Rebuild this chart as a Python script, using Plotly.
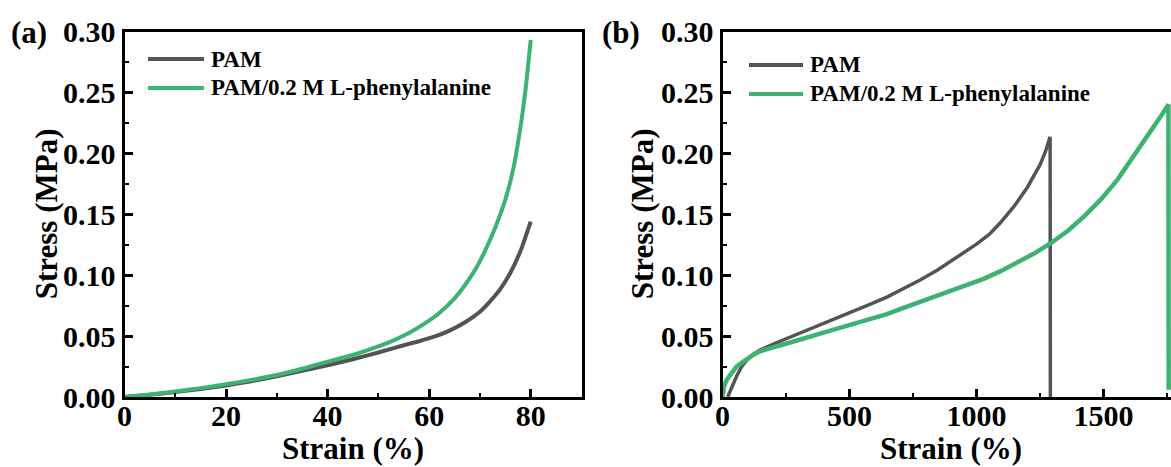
import plotly.graph_objects as go

W, H = 1171, 467

# ---------------- data ----------------
# panel (a)
a_pam_strain = [0, 5, 10, 15, 20, 25, 30, 35, 40, 45, 50, 55, 58, 61, 64, 67, 70, 72, 74, 76, 78, 80]
a_pam_stress = [0, 0.0018, 0.004, 0.0066, 0.0095, 0.013, 0.017, 0.0215, 0.026, 0.031, 0.0365,
                0.0425, 0.0458, 0.0495, 0.0545, 0.0612, 0.070, 0.0785, 0.0885, 0.102, 0.120, 0.144]
a_phe_strain = [0, 5, 10, 15, 20, 25, 30, 35, 40, 45, 50, 53, 56, 59, 62, 65, 67, 69, 71, 73, 75,
                76.5, 78, 79, 80]
a_phe_stress = [0, 0.002, 0.0045, 0.0073, 0.0105, 0.014, 0.018, 0.0232, 0.029, 0.0345, 0.0415,
                0.0465, 0.0525, 0.0600, 0.0690, 0.0810, 0.0915, 0.104, 0.120, 0.139, 0.162,
                0.186, 0.222, 0.253, 0.293]

# panel (b)
b_pam_strain = [20, 30, 40, 55, 75, 95, 120, 147, 200, 253, 320, 384, 450, 515, 580, 647, 710, 778,
                845, 910, 960, 1000, 1050, 1094, 1150, 1200, 1250, 1270, 1290, 1291]
b_pam_stress = [0, 0.005, 0.010, 0.017, 0.025, 0.030, 0.035, 0.0386, 0.0435, 0.048, 0.0535, 0.059,
                0.0645, 0.070, 0.076, 0.082, 0.0885, 0.096, 0.104, 0.113, 0.1195, 0.1255, 0.1335,
                0.143, 0.157, 0.172, 0.1905, 0.2005, 0.2135, 0]
b_phe_strain = [0, 5, 16, 35, 55, 75, 95, 120, 147, 200, 253, 320, 384, 450, 515, 580, 647, 710, 778,
                840, 897, 960, 1028, 1095, 1160, 1225, 1291, 1360, 1423, 1489, 1554, 1620, 1686,
                1720, 1756, 1757]
b_phe_stress = [0, 0.008, 0.014, 0.020, 0.025, 0.028, 0.031, 0.0345, 0.0375, 0.041, 0.044, 0.048,
                0.052, 0.056, 0.060, 0.064, 0.068, 0.073, 0.078, 0.0825, 0.087, 0.0915, 0.097,
                0.1033, 0.110, 0.1175, 0.126, 0.1365, 0.148, 0.162, 0.178, 0.1975, 0.218,
                0.2285, 0.240, 0.006]

series_names = ["PAM", "PAM/0.2 M L-phenylalanine"]
colors = ["#545454", "#3CB371"]

y_ticks = [0, 0.05, 0.10, 0.15, 0.20, 0.25, 0.30]

# ---------------- layout helpers ----------------
FONT = "Liberation Serif, Times New Roman, serif"


def px_x(x):
    return x / W


def px_y(y):
    return 1 - y / H


plot_top, plot_bot = 31.5, 397
a_left, a_right = 124.5, 581.5
b_left = 722.6
b_px_per_unit = (a_right - a_left) / 1800.0
b_max = (W - b_left) / b_px_per_unit

fig = go.Figure()
fig.add_trace(go.Scatter(x=a_pam_strain, y=a_pam_stress, mode="lines", name=series_names[0],
                         line=dict(color=colors[0], width=4, shape="spline", smoothing=0.5),
                         xaxis="x", yaxis="y", showlegend=False))
fig.add_trace(go.Scatter(x=a_phe_strain, y=a_phe_stress, mode="lines", name=series_names[1],
                         line=dict(color=colors[1], width=4, shape="spline", smoothing=0.5),
                         xaxis="x", yaxis="y", showlegend=False))
fig.add_trace(go.Scatter(x=b_pam_strain, y=b_pam_stress, mode="lines", name=series_names[0],
                         line=dict(color=colors[0], width=3.5),
                         xaxis="x2", yaxis="y2", showlegend=False))
fig.add_trace(go.Scatter(x=b_phe_strain, y=b_phe_stress, mode="lines", name=series_names[1],
                         line=dict(color=colors[1], width=4.5),
                         xaxis="x2", yaxis="y2", showlegend=False))

tickfont = dict(family=FONT, size=30, color="black", weight="bold")
common = dict(showgrid=False, zeroline=False, showline=True, linecolor="black", linewidth=3,
              ticks="inside", ticklen=8, tickwidth=3, tickcolor="black", tickfont=tickfont,
              fixedrange=True, automargin=False)

ydom = [px_y(plot_bot), px_y(plot_top)]
minor_style = dict(ticks="inside", ticklen=4, tickwidth=2, tickcolor="black")

fig.update_layout(
    width=W, height=H,
    margin=dict(l=0, r=0, t=0, b=0, autoexpand=False),
    paper_bgcolor="white", plot_bgcolor="white",
    xaxis=dict(domain=[px_x(a_left), px_x(a_right)], range=[0, 90], dtick=20, tick0=0,
               minor=dict(dtick=10, **minor_style), mirror=True, anchor="y",
               ticklabelstandoff=-10, **common),
    yaxis=dict(domain=ydom, range=[0, 0.30], tickvals=y_ticks, tickformat=".2f",
               minor=dict(dtick=0.025, **minor_style), mirror=True, anchor="x", **common),
    xaxis2=dict(domain=[px_x(b_left), 1.0], range=[0, b_max], dtick=500, tick0=0,
                minor=dict(dtick=250, **minor_style), mirror=True, anchor="y2",
                ticklabelstandoff=-10, **common),
    yaxis2=dict(domain=ydom, range=[0, 0.30], tickvals=y_ticks, tickformat=".2f",
                minor=dict(dtick=0.025, **minor_style), mirror=False, anchor="x2", **common),
)

annotations = []
shapes = []

titlefont = dict(family=FONT, size=31, color="black", weight="bold")
legfont = dict(family=FONT, size=23, color="black", weight="bold")

# axis titles
for cx in [(a_left + a_right) / 2, b_left + 900 * b_px_per_unit]:
    annotations.append(dict(text="Strain (%)", x=px_x(cx), y=px_y(448), xref="paper", yref="paper",
                            showarrow=False, font=titlefont, xanchor="center", yanchor="middle"))
for cx in [46, 642]:
    annotations.append(dict(text="Stress (MPa)", x=px_x(cx), y=px_y((plot_top + plot_bot) / 2),
                            xref="paper", yref="paper", showarrow=False, font=titlefont,
                            textangle=-90, xanchor="center", yanchor="middle"))
# panel labels
for lab, cx in [("(a)", 29), ("(b)", 621)]:
    annotations.append(dict(text=lab, x=px_x(cx), y=px_y(33), xref="paper", yref="paper",
                            showarrow=False, font=titlefont, xanchor="center", yanchor="middle"))

# legends
for (lx0, lx1, ly0) in [(148, 204, 59), (749, 803, 65)]:
    for i, name in enumerate(series_names):
        yy = ly0 + i * 29
        shapes.append(dict(type="line", xref="paper", yref="paper", x0=px_x(lx0), x1=px_x(lx1),
                           y0=px_y(yy), y1=px_y(yy), line=dict(color=colors[i], width=4)))
        annotations.append(dict(text=name, x=px_x(lx1 + 5), y=px_y(yy), xref="paper", yref="paper",
                                showarrow=False, font=legfont, xanchor="left", yanchor="middle"))

fig.update_layout(annotations=annotations, shapes=shapes)

fig.write_html("out.html")
